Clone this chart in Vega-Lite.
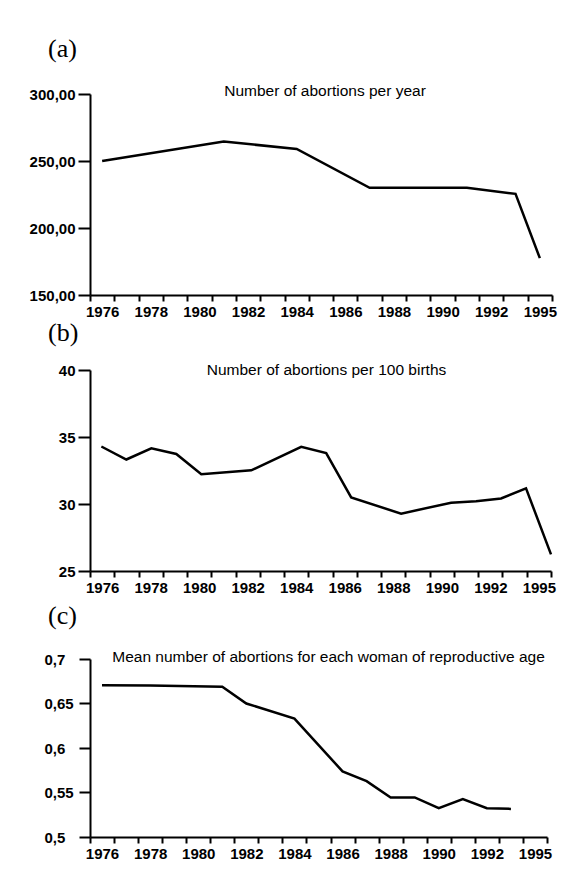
{
  "$schema": "https://vega.github.io/schema/vega-lite/v6.json",
  "background": "white",
  "padding": {"left": 29, "top": 36, "right": 5, "bottom": 5},
  "config": {
    "font": "Liberation Sans",
    "view": {"stroke": null},
    "axis": {"domainColor": "black", "domainWidth": 2, "tickColor": "black", "tickWidth": 2, "labelColor": "black", "labelFont": "Liberation Sans", "labelFontSize": 15, "labelFontWeight": "bold", "grid": false, "title": null},
    "axisX": {"tickBand": "extent", "labelAngle": 0, "tickSize": 6, "labelPadding": 3, "labelExpr": "toNumber(datum.value) % 2 == 0 || datum.value == '1995' ? datum.value : ''"},
    "title": {"font": "Liberation Serif", "fontSize": 26, "fontWeight": "normal", "anchor": "start", "frame": "group", "color": "black", "baseline": "alphabetic"}
  },
  "datasets": {
    "a": [
      {"year": "1976", "value": 250},
      {"year": "1981", "value": 264.5},
      {"year": "1984", "value": 259},
      {"year": "1987", "value": 230},
      {"year": "1991", "value": 230},
      {"year": "1993", "value": 225.5},
      {"year": "1995", "value": 177.5}
    ],
    "b": [
      {"year": "1976", "value": 34.29},
      {"year": "1977", "value": 33.32},
      {"year": "1978", "value": 34.15},
      {"year": "1979", "value": 33.73},
      {"year": "1980", "value": 32.22},
      {"year": "1982", "value": 32.51},
      {"year": "1984", "value": 34.27},
      {"year": "1985", "value": 33.8},
      {"year": "1986", "value": 30.49},
      {"year": "1988", "value": 29.28},
      {"year": "1990", "value": 30.1},
      {"year": "1991", "value": 30.2},
      {"year": "1992", "value": 30.41},
      {"year": "1993", "value": 31.17},
      {"year": "1995", "value": 26.24}
    ],
    "c": [
      {"year": "1976", "value": 0.6704},
      {"year": "1978", "value": 0.6702},
      {"year": "1981", "value": 0.6688},
      {"year": "1982", "value": 0.65},
      {"year": "1984", "value": 0.633},
      {"year": "1986", "value": 0.5737},
      {"year": "1987", "value": 0.5628},
      {"year": "1988", "value": 0.5444},
      {"year": "1989", "value": 0.5444},
      {"year": "1990", "value": 0.5323},
      {"year": "1991", "value": 0.5425},
      {"year": "1992", "value": 0.5323},
      {"year": "1993", "value": 0.5316}
    ]
  },
  "bounds": "flush",
  "spacing": 75,
  "vconcat": [
    {
      "width": 462,
      "height": 201,
      "title": {"text": "(a)", "dx": -42, "offset": 22},
      "layer": [
        {
          "data": {"name": "a"},
          "mark": {"type": "line", "color": "black", "strokeWidth": 2.5},
          "encoding": {
            "x": {"field": "year", "type": "ordinal", "scale": {"type": "band", "domain": ["1976","1977","1978","1979","1980","1981","1982","1983","1984","1985","1986","1987","1988","1989","1990","1991","1992","1993","1995"], "paddingInner": 0, "paddingOuter": 0}},
            "y": {"field": "value", "type": "quantitative", "scale": {"domain": [150, 300], "nice": false, "zero": false}, "axis": {"values": [150, 200, 250, 300], "labelExpr": "replace(format(datum.value, '.2f'), '.', ',')", "tickSize": 12, "labelPadding": 3}}
          }
        },
        {
          "data": {"values": [{"label": "Number of abortions per year"}]},
          "mark": {"type": "text", "fontSize": 15.5, "font": "Liberation Sans", "color": "black", "baseline": "middle", "dx": 4, "dy": -3},
          "encoding": {
            "x": {"datum": "1985", "type": "ordinal"},
            "y": {"datum": 300, "type": "quantitative"},
            "text": {"field": "label"}
          }
        }
      ]
    },
    {
      "bounds": "flush",
      "spacing": 88,
      "vconcat": [
        {
          "width": 461,
          "height": 201,
          "title": {"text": "(b)", "dx": -42, "offset": 17},
          "resolve": {"scale": {"x": "independent"}, "axis": {"x": "independent"}},
          "layer": [
            {
              "data": {"values": [{"label": "Number of abortions per 100 births"}]},
              "mark": {"type": "text", "fontSize": 15.5, "font": "Liberation Sans", "color": "black", "baseline": "middle", "dx": 6, "dy": 0},
              "encoding": {
                "x": {"datum": "1985", "type": "ordinal", "scale": {"type": "band", "domain": ["1976","1977","1978","1979","1980","1981","1982","1983","1984","1985","1986","1987","1988","1989","1990","1991","1992","1993","1995"], "paddingInner": 0, "paddingOuter": 0}},
                "y": {"datum": 40, "type": "quantitative", "scale": {"domain": [25, 40], "nice": false, "zero": false}, "axis": {"values": [25, 30, 35, 40], "tickSize": 12, "labelPadding": 3}},
                "text": {"field": "label"}
              }
            },
            {
              "data": {"name": "b"},
              "mark": {"type": "line", "color": "black", "strokeWidth": 2.5},
              "encoding": {
                "x": {"field": "year", "type": "ordinal", "scale": {"type": "point", "domain": ["1976","1977","1978","1979","1980","1981","1982","1983","1984","1985","1986","1987","1988","1989","1990","1991","1992","1993","1995"], "padding": 0.2275, "align": 1}, "axis": null},
                "y": {"field": "value", "type": "quantitative"}
              }
            }
          ]
        },
        {
          "width": 457,
          "height": 178,
          "title": {"text": "(c)", "dx": -42, "offset": 21},
          "layer": [
            {
              "data": {"name": "c"},
              "mark": {"type": "line", "color": "black", "strokeWidth": 2.5},
              "encoding": {
                "x": {"field": "year", "type": "ordinal", "scale": {"type": "band", "domain": ["1976","1977","1978","1979","1980","1981","1982","1983","1984","1985","1986","1987","1988","1989","1990","1991","1992","1993","1995"], "paddingInner": 0, "paddingOuter": 0}},
                "y": {"field": "value", "type": "quantitative", "scale": {"domain": [0.5, 0.7], "nice": false, "zero": false}, "axis": {"values": [0.5, 0.55, 0.6, 0.65, 0.7], "labelExpr": "replace(toString(datum.value), '.', ',')", "tickSize": 11, "labelPadding": 35, "labelAlign": "left"}}
              }
            },
            {
              "data": {"values": [{"label": "Mean number of abortions for each woman of reproductive age"}]},
              "mark": {"type": "text", "fontSize": 15.5, "font": "Liberation Sans", "color": "black", "baseline": "middle", "dx": 10, "dy": -2},
              "encoding": {
                "x": {"datum": "1985", "type": "ordinal"},
                "y": {"datum": 0.7, "type": "quantitative"},
                "text": {"field": "label"}
              }
            }
          ]
        }
      ]
    }
  ]
}
